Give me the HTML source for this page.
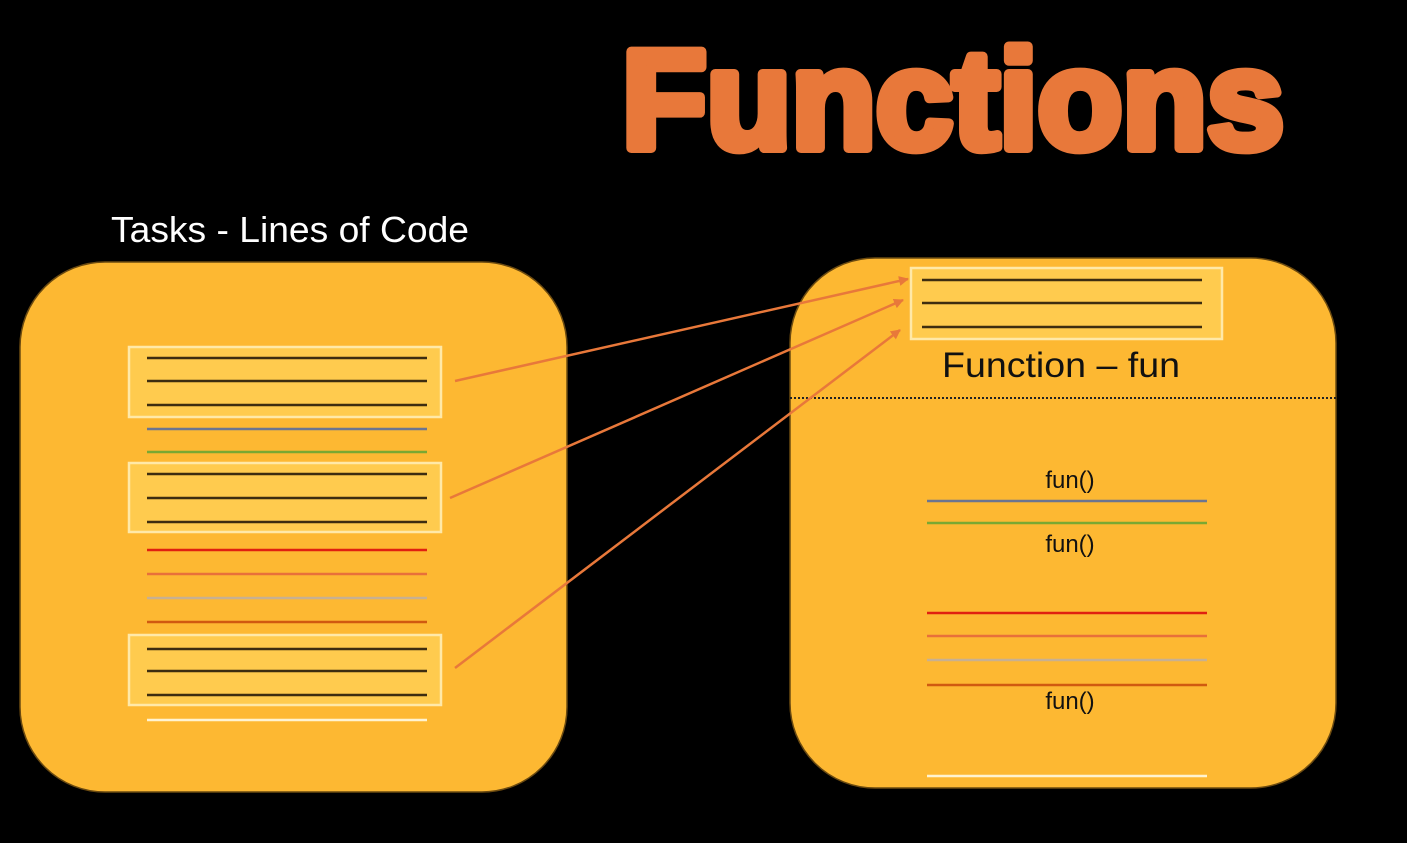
<!DOCTYPE html>
<html><head><meta charset="utf-8"><style>
html,body{margin:0;padding:0;background:#000;width:1407px;height:843px;overflow:hidden}
</style></head><body>
<svg width="1407" height="843" viewBox="0 0 1407 843" xmlns="http://www.w3.org/2000/svg" font-family="Liberation Sans, sans-serif">
<defs>
<marker id="ah" markerWidth="10" markerHeight="10" refX="9" refY="5" orient="auto" markerUnits="userSpaceOnUse">
<path d="M0,0 L10,5 L0,10 z" fill="#E8783A"/>
</marker>
</defs>
<rect width="1407" height="843" fill="#000"/>
<text x="622" y="148" font-size="140" font-weight="bold" fill="#E8783A" stroke="#E8783A" stroke-width="10" stroke-linejoin="round" textLength="662" lengthAdjust="spacingAndGlyphs">Functions</text>
<text x="290" y="242" font-size="36" fill="#fff" text-anchor="middle" textLength="358" lengthAdjust="spacingAndGlyphs">Tasks - Lines of Code</text>

<rect x="20" y="262" width="547" height="530" rx="85" fill="#FDB832" stroke="#6b4a10" stroke-width="1.5"/>
<rect x="790" y="258" width="546" height="530" rx="85" fill="#FDB832" stroke="#6b4a10" stroke-width="1.5"/>

<g fill="#FFCB4E" stroke="#FFE9A8" stroke-width="2.5">
<rect x="129" y="347" width="312" height="70"/>
<rect x="129" y="463" width="312" height="69"/>
<rect x="129" y="635" width="312" height="70"/>
<rect x="911" y="268" width="311" height="71"/>
</g>
<g stroke-width="2.5">
<g stroke="#3d2d10">
<line x1="147" x2="427" y1="358" y2="358"/><line x1="147" x2="427" y1="381" y2="381"/><line x1="147" x2="427" y1="405" y2="405"/>
<line x1="147" x2="427" y1="474" y2="474"/><line x1="147" x2="427" y1="498" y2="498"/><line x1="147" x2="427" y1="522" y2="522"/>
<line x1="147" x2="427" y1="649" y2="649"/><line x1="147" x2="427" y1="671" y2="671"/><line x1="147" x2="427" y1="695" y2="695"/>
<line x1="922" x2="1202" y1="280" y2="280"/><line x1="922" x2="1202" y1="303" y2="303"/><line x1="922" x2="1202" y1="327" y2="327"/>
</g>
<line x1="147" x2="427" y1="429" y2="429" stroke="#6c7590"/>
<line x1="147" x2="427" y1="452" y2="452" stroke="#7aa832"/>
<line x1="147" x2="427" y1="550" y2="550" stroke="#e02010"/>
<line x1="147" x2="427" y1="574" y2="574" stroke="#e8703a"/>
<line x1="147" x2="427" y1="598" y2="598" stroke="#c8b090"/>
<line x1="147" x2="427" y1="622" y2="622" stroke="#d05a10"/>
<line x1="147" x2="427" y1="720" y2="720" stroke="#fff3d0"/>
<line x1="927" x2="1207" y1="501" y2="501" stroke="#6c7590"/>
<line x1="927" x2="1207" y1="523" y2="523" stroke="#7aa832"/>
<line x1="927" x2="1207" y1="613" y2="613" stroke="#e02010"/>
<line x1="927" x2="1207" y1="636" y2="636" stroke="#e8703a"/>
<line x1="927" x2="1207" y1="660" y2="660" stroke="#c8b090"/>
<line x1="927" x2="1207" y1="685" y2="685" stroke="#d05a10"/>
<line x1="927" x2="1207" y1="776" y2="776" stroke="#fff3d0"/>
</g>
<line x1="790" x2="1336" y1="398" y2="398" stroke="#222" stroke-width="2" stroke-dasharray="2,2"/>
<text x="1061" y="377" font-size="35" fill="#111" text-anchor="middle" textLength="238" lengthAdjust="spacingAndGlyphs">Function – fun</text>
<g font-size="24" fill="#111" text-anchor="middle">
<text x="1070" y="488">fun()</text>
<text x="1070" y="552">fun()</text>
<text x="1070" y="709">fun()</text>
</g>
<g stroke="#E8783A" stroke-width="2.5" marker-end="url(#ah)">
<line x1="455" y1="381" x2="908" y2="279"/>
<line x1="450" y1="498" x2="903" y2="300"/>
<line x1="455" y1="668" x2="900" y2="330"/>
</g>
</svg>
</body></html>
